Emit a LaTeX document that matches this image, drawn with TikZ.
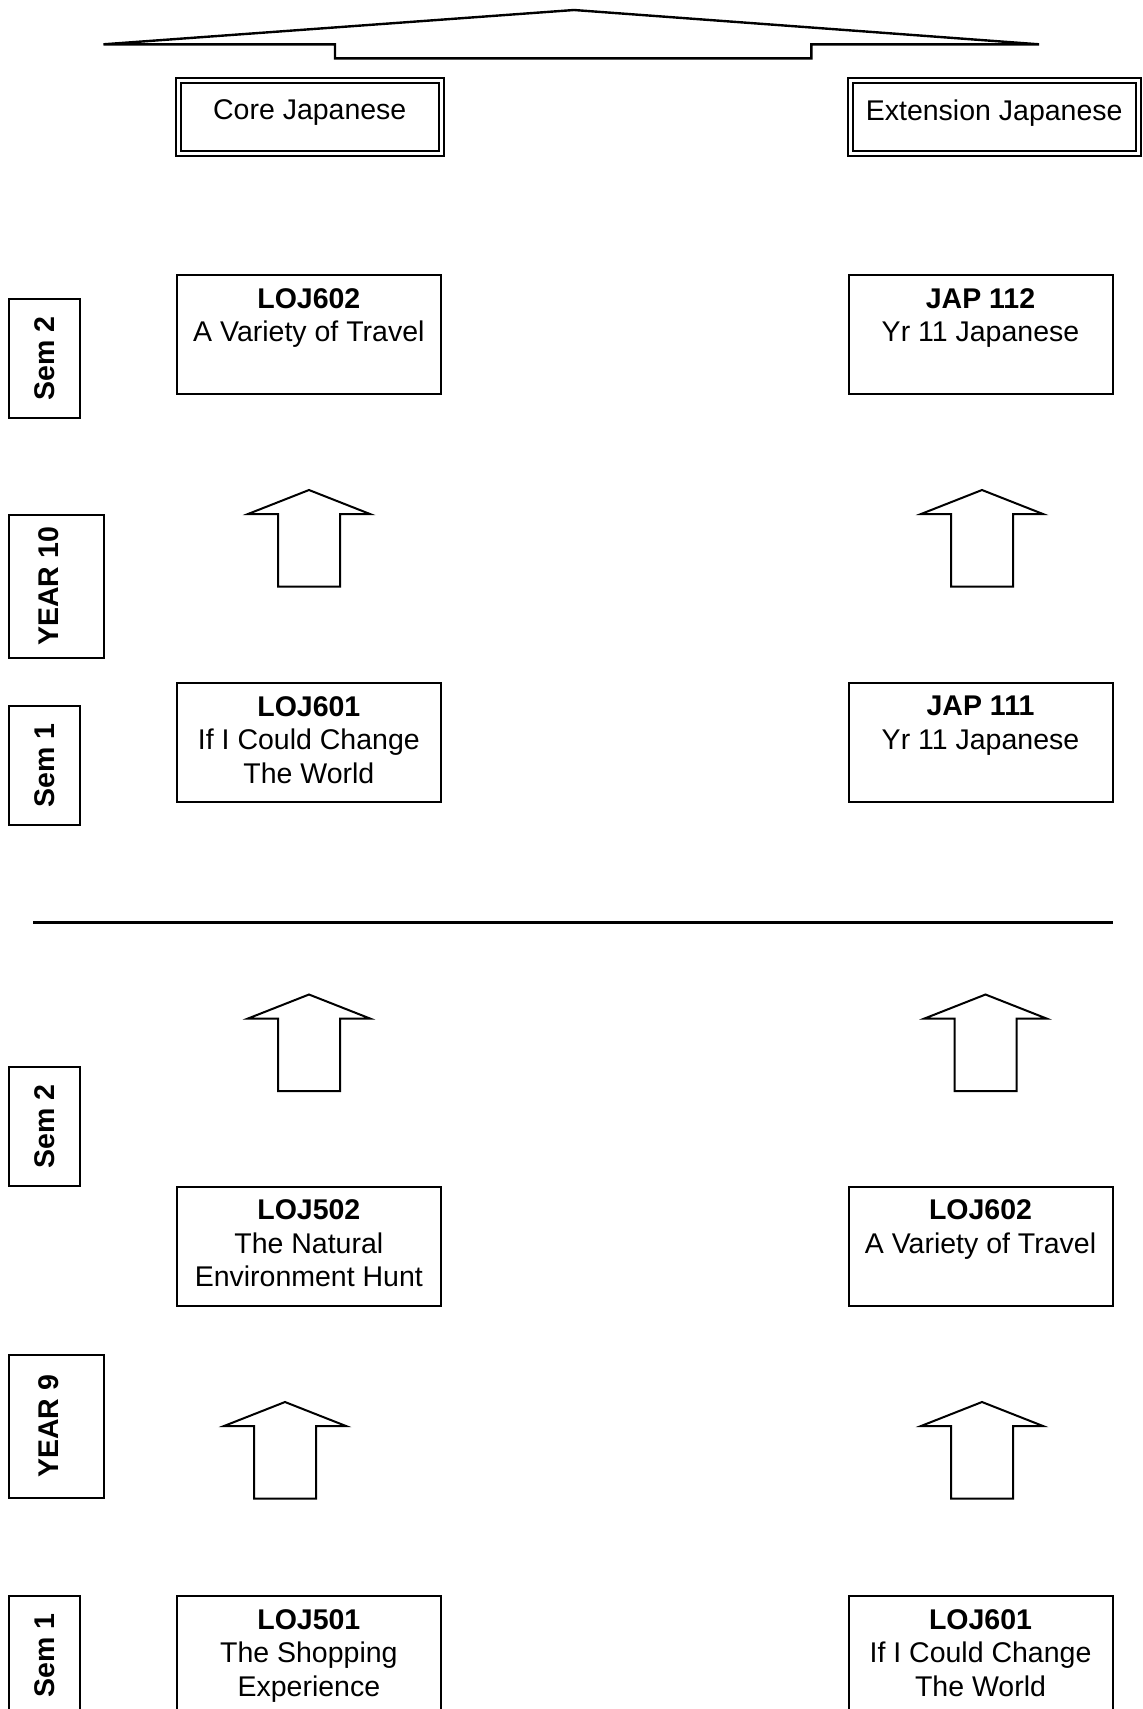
\documentclass[tikz,border=0pt]{standalone}
\usepackage{fontspec}
\setmainfont{Liberation Sans}
\usetikzlibrary{positioning}

\newcommand\boxfont{\fontsize{28.5}{33.5}\selectfont}

\tikzset{
  every node/.style={font=\boxfont},
  unitbox/.style={draw, minimum width=264pt, minimum height=119.5pt, inner sep=0pt},
  unittext/.style={align=center, inner sep=0pt},
  streambox/.style={draw, double, double distance=3pt, minimum height=72.4pt, inner sep=0pt},
  sembox/.style={draw, rotate=90, font=\boxfont\bfseries, minimum width=119.5pt,
    minimum height=71.3pt, inner sep=0pt},
  yearbox/.style={sembox, minimum width=143pt, minimum height=95.6pt, text depth=16pt},
}

\begin{document}
\begin{tikzpicture}[x=1pt, y=-1pt, line width=2pt]
  \useasboundingbox (0,0) rectangle (1143,1709);
  \clip (0,0) rectangle (1143,1709);

  % roof over the two streams
  \draw[line width=2.4pt] (103.5,44.3) -- (574,10) -- (1039,44.3) -- (811.4,44.3)
    -- (811.4,58.3) -- (335,58.3) -- (335,44.3) -- cycle;

  \node[streambox, minimum width=263.5pt] (core) at (309.75,117) {};
  \node[unittext, below=19pt of core.north] (core-t) {Core Japanese};
  \node[streambox, minimum width=288pt] (ext) at (994.2,117) {};
  \node[unittext, below=19pt of ext.north] (ext-t) {Extension Japanese};

  % year 10
  \node[unitbox] (loj602a) at (308.85,334.35) {};
  \node[unittext, below=13.5pt of loj602a.north] (loj602a-t) {\textbf{LOJ602}\\A Variety of Travel};
  \node[unitbox] (jap112) at (980.5,334.35) {};
  \node[unittext, below=13.5pt of jap112.north] (jap112-t) {\textbf{JAP 112}\\Yr 11 Japanese};
  \node[unitbox] (loj601a) at (308.85,742.5) {};
  \node[unittext, below=13.5pt of loj601a.north] (loj601a-t) {\textbf{LOJ601}\\If I Could Change\\The World};
  \node[unitbox] (jap111) at (980.5,742.5) {};
  \node[unittext, below=13.5pt of jap111.north] (jap111-t) {\textbf{JAP 111}\\Yr 11 Japanese};

  \node[sembox] (sem2a) at (44.35,358.35) {Sem 2};
  \node[yearbox] (year10) at (56.5,586.35) {YEAR 10};
  \node[sembox] (sem1a) at (44.35,765.5) {Sem 1};

  \draw[line width=3.5pt] (33,922.3) -- (1113,922.3);

  % year 9
  \node[unitbox] (loj502) at (308.85,1246.25) {};
  \node[unittext, below=13.5pt of loj502.north] (loj502-t) {\textbf{LOJ502}\\The Natural\\Environment Hunt};
  \node[unitbox] (loj602b) at (980.5,1246.25) {};
  \node[unittext, below=13.5pt of loj602b.north] (loj602b-t) {\textbf{LOJ602}\\A Variety of Travel};
  \node[unitbox] (loj501) at (308.85,1655.5) {};
  \node[unittext, below=13.5pt of loj501.north] (loj501-t) {\textbf{LOJ501}\\The Shopping\\Experience};
  \node[unitbox] (loj601b) at (980.5,1655.5) {};
  \node[unittext, below=13.5pt of loj601b.north] (loj601b-t) {\textbf{LOJ601}\\If I Could Change\\The World};

  \node[sembox] (sem2b) at (44.35,1126.35) {Sem 2};
  \node[yearbox] (year9) at (56.5,1426.5) {YEAR 9};
  \node[sembox] (sem1b) at (44.35,1655.5) {Sem 1};

  % block arrows
  \foreach \cx/\ty in {309/490, 982/490, 309/994.5, 985.5/994.5, 285/1402, 982/1402}
    \draw (\cx-61,\ty+24) -- (\cx,\ty) -- (\cx+61,\ty+24) -- (\cx+31,\ty+24)
      -- (\cx+31,\ty+96.5) -- (\cx-31,\ty+96.5) -- (\cx-31,\ty+24) -- cycle;
\end{tikzpicture}
\end{document}
